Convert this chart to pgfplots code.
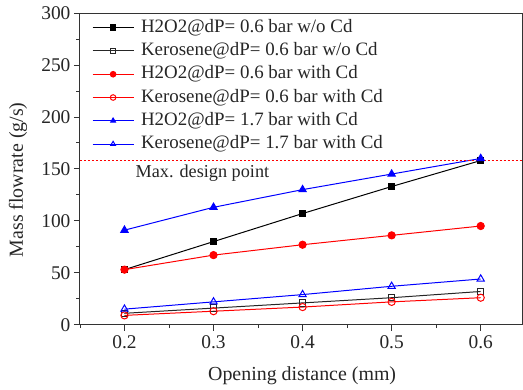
\documentclass[border=0pt]{standalone}
\usepackage{pgfplots}
\pgfplotsset{compat=1.18}
\usepackage{fontspec}
\setmainfont{Liberation Serif}
\begin{document}
\begin{tikzpicture}[x=1bp,y=1bp]
\begin{axis}[
  scale only axis,
  width=443bp, height=312bp,
  xmin=0.15, xmax=0.647,
  ymin=0, ymax=300,
  xtick={0.2,0.3,0.4,0.5,0.6},
  xticklabels={0.2,0.3,0.4,0.5,0.6},
  minor xtick={0.15,0.25,0.35,0.45,0.55},
  ytick={0,50,100,150,200,250,300},
  minor ytick={25,75,125,175,225,275},
  xtick pos=left, ytick pos=left,
  tick align=outside,
  major tick length=6bp, minor tick length=3.5bp,
  every tick/.style={black!80, line width=0.8pt},
  axis line style={line width=0.9pt, black!80},
  tick label style={font=\fontsize{19.5}{22}\selectfont, text=black!85},
  xticklabel style={yshift=-1bp},
  /pgf/number format/assume math mode=true,
  xlabel={Opening distance (mm)},
  ylabel={Mass flowrate (g/s)},
  label style={font=\fontsize{20}{22}\selectfont, text=black!85},
  xlabel style={at={(axis description cs:0.502,-0.163)}, anchor=center},
  ylabel style={at={(axis description cs:-0.140,0.465)}, anchor=center},
  legend style={draw=none, fill=none, at={(axis description cs:0,1)}, anchor=north west,
    xshift=12bp, yshift=-5.5bp, inner sep=0pt,
    font=\fontsize{19}{21}\selectfont, row sep=5.3bp, column sep=7bp,
    nodes={inner sep=0pt, text height=13.5bp, text depth=4.5bp, text=black!85}},
  legend cell align=left,
  legend image code/.code={\draw[#1] (0bp,0bp) -- (41bp,0bp); \draw[#1, only marks, mark size=2.8bp] plot coordinates {(20.5bp,0bp)};},
  every axis plot/.append style={line width=1pt},
]
\addplot[black, mark=square*, mark size=3.2bp, mark options={fill=black}] coordinates {(0.2,53) (0.3,80) (0.4,107) (0.5,133) (0.6,158)};
\addlegendentry{H2O2@dP= 0.6 bar w/o Cd}
\addplot[black!85, mark=square, mark size=3.2bp, mark options={fill=white}] coordinates {(0.2,11) (0.3,16) (0.4,21) (0.5,26) (0.6,32)};
\addlegendentry{Kerosene@dP= 0.6 bar w/o Cd}
\addplot[red, mark=*, mark size=3.6bp, mark options={fill=red}] coordinates {(0.2,53) (0.3,67) (0.4,77) (0.5,86) (0.6,95)};
\addlegendentry{H2O2@dP= 0.6 bar with Cd}
\addplot[red, mark=o, mark size=3.6bp, mark options={fill=white}] coordinates {(0.2,9) (0.3,13) (0.4,17) (0.5,22) (0.6,26)};
\addlegendentry{Kerosene@dP= 0.6 bar with Cd}
\addplot[blue, mark=triangle*, mark size=4.2bp, mark options={fill=blue}] coordinates {(0.2,91) (0.3,113) (0.4,130) (0.5,145) (0.6,160)};
\addlegendentry{H2O2@dP= 1.7 bar with Cd}
\addplot[blue, mark=triangle, mark size=4.2bp, mark options={fill=white}] coordinates {(0.2,15) (0.3,22) (0.4,29) (0.5,37) (0.6,44)};
\addlegendentry{Kerosene@dP= 1.7 bar with Cd}
\addplot[red, line width=0.6pt, dash pattern=on 2bp off 2bp, forget plot] coordinates {(0.15,158.5) (0.647,158.5)};
\node[font=\fontsize{18.3}{20}\selectfont, text=black!85, anchor=west, inner sep=0pt] at (axis cs:0.2123,146) {Max. design point};
\end{axis}
\path ([xshift=-80bp,yshift=-65bp]current axis.south west) rectangle ([yshift=13bp]current axis.north east);
\end{tikzpicture}
\end{document}
